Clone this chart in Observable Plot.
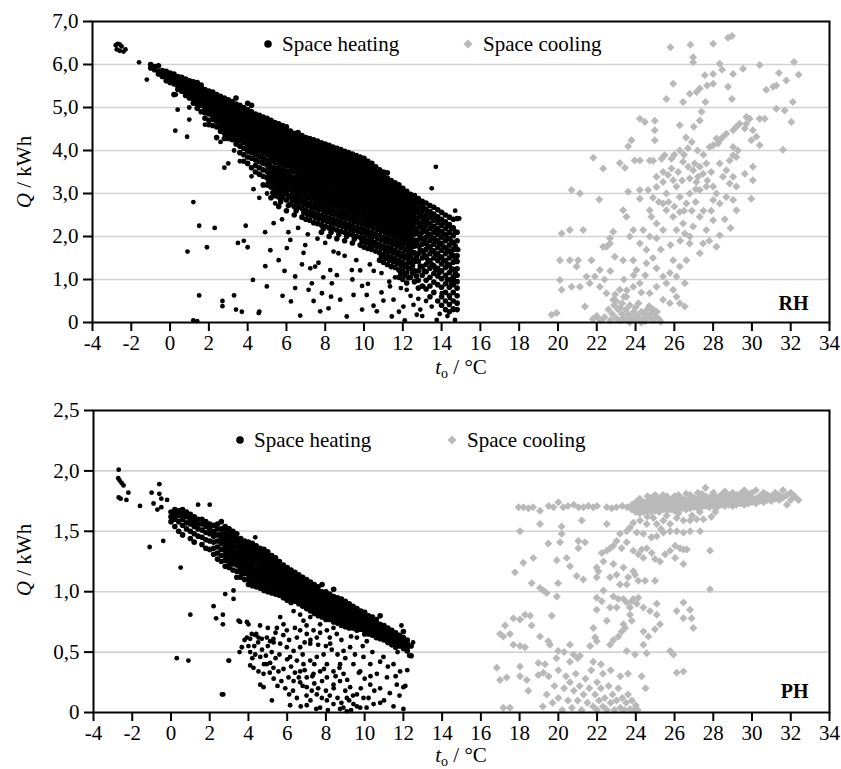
<!DOCTYPE html>
<html><head><meta charset="utf-8">
<script src="https://cdn.jsdelivr.net/npm/d3@7"></script>
<script src="https://cdn.jsdelivr.net/npm/@observablehq/plot@0.6"></script>
<style>body{margin:0;background:#fff}#wrap{width:841px}</style>
</head><body><div id="wrap"></div>
<script>
const xTicks = [-4,-2,0,2,4,6,8,10,12,14,16,18,20,22,24,26,28,30,32,34];
const yTicksRH = [0,1,2,3,4,5,6,7];
const yTicksPH = [0,0.5,1,1.5,2,2.5];
const legendLabels = ["Space heating","Space cooling"];
const panelTags = ["RH","PH"];

// RH space heating: dense band, as columns [x, [y...]]
const heatRH_cols = [
[-1.0,[6.0,5.92]],[-0.8,[5.95,5.88]],[-0.6,[5.97,5.85,5.78]],[-0.4,[5.86,5.8,5.72]],[-0.2,[5.84,5.76,5.7,5.62]],
[0.0,[5.8,5.74,5.66,5.58]],[0.2,[5.78,5.7,5.62,5.55,5.3]],[0.4,[5.72,5.65,5.58,5.5,5.42]],[0.6,[5.7,5.62,5.55,5.48,5.38]],
[0.8,[5.66,5.6,5.52,5.44,5.35,5.28]],[1.0,[5.62,5.55,5.48,5.4,5.32,5.22]],[1.2,[5.6,5.52,5.44,5.36,5.28,5.18,5.1]],
[1.4,[5.58,5.5,5.42,5.34,5.26,5.18,5.08,4.98]],[1.6,[5.52,5.45,5.38,5.3,5.22,5.14,5.05,4.9]],
[1.8,[5.42,5.36,5.3,5.22,5.14,5.06,4.98,4.88,4.75]],[2.0,[5.38,5.32,5.26,5.18,5.1,5.02,4.94,4.85,4.7,4.6]],
[2.2,[5.36,5.28,5.2,5.12,5.04,4.96,4.88,4.8,4.72,4.58]],[2.4,[5.3,5.24,5.16,5.08,5.0,4.92,4.84,4.76,4.68,4.55,4.3]],
[2.6,[5.26,5.2,5.12,5.04,4.96,4.88,4.8,4.72,4.64,4.55,4.45]],[2.8,[5.22,5.15,5.07,4.99,4.91,4.83,4.75,4.67,4.58,4.5,4.4,4.28]],
[3.0,[5.18,5.1,5.02,4.94,4.86,4.78,4.7,4.62,4.54,4.45,4.36,4.28]],[3.2,[5.14,5.06,4.98,4.9,4.82,4.74,4.66,4.58,4.5,4.42,4.34,4.25]],
[3.4,[5.22,5.08,5.0,4.92,4.84,4.76,4.68,4.6,4.52,4.44,4.36,4.26,4.15]],[3.6,[5.05,4.97,4.89,4.81,4.73,4.65,4.57,4.49,4.41,4.33,4.22,4.1,3.95]],
[3.8,[5.0,4.92,4.84,4.76,4.68,4.6,4.52,4.44,4.36,4.28,4.18,4.05,3.9,3.75]],[4.0,[5.1,4.95,4.87,4.79,4.71,4.63,4.55,4.47,4.39,4.31,4.2,4.1,3.98,3.85,3.7]],
[4.2,[5.05,4.9,4.82,4.74,4.66,4.58,4.5,4.42,4.34,4.26,4.16,4.06,3.95,3.82,3.6]],[4.4,[4.85,4.77,4.69,4.61,4.53,4.45,4.37,4.29,4.21,4.11,4.0,3.9,3.78,3.65,3.5]],
[4.6,[4.82,4.74,4.66,4.58,4.5,4.42,4.34,4.26,4.18,4.08,3.98,3.86,3.74,3.6,3.45]],[4.8,[4.78,4.7,4.62,4.54,4.46,4.38,4.3,4.22,4.14,4.04,3.94,3.82,3.7,3.55,3.4,3.2]],
[5.0,[4.75,4.67,4.59,4.51,4.43,4.35,4.27,4.19,4.1,4.0,3.9,3.78,3.66,3.52,3.36,3.2]],[5.2,[4.7,4.62,4.54,4.46,4.38,4.3,4.22,4.14,4.06,3.96,3.86,3.75,3.62,3.48,3.33,3.15,2.9]],
[5.4,[4.65,4.58,4.5,4.42,4.34,4.26,4.18,4.1,4.02,3.93,3.83,3.72,3.6,3.46,3.3,3.12,2.95]],[5.6,[4.62,4.54,4.46,4.38,4.3,4.22,4.14,4.06,3.98,3.9,3.8,3.7,3.58,3.44,3.28,3.1,2.92,2.7]],
[5.8,[4.58,4.5,4.42,4.34,4.26,4.18,4.1,4.02,3.94,3.86,3.77,3.67,3.55,3.42,3.26,3.08,2.9]],[6.0,[4.55,4.47,4.39,4.31,4.23,4.15,4.07,3.99,3.91,3.83,3.74,3.64,3.52,3.38,3.22,3.05,2.85,2.6]],
[6.2,[4.45,4.38,4.3,4.22,4.14,4.06,3.98,3.9,3.82,3.73,3.63,3.52,3.4,3.26,3.1,2.92,2.75]],[6.4,[4.4,4.33,4.25,4.17,4.09,4.01,3.93,3.85,3.77,3.69,3.6,3.5,3.38,3.24,3.08,2.9,2.7,2.5]],
[6.6,[4.42,4.3,4.22,4.14,4.06,3.98,3.9,3.82,3.74,3.66,3.57,3.47,3.36,3.22,3.06,2.88,2.68]],[6.8,[4.35,4.27,4.19,4.11,4.03,3.95,3.87,3.79,3.71,3.63,3.54,3.44,3.33,3.19,3.03,2.85,2.65,2.45]],
[7.0,[4.3,4.22,4.14,4.06,3.98,3.9,3.82,3.74,3.66,3.58,3.5,3.4,3.3,3.16,3.0,2.82,2.62,2.4]],[7.2,[4.28,4.2,4.12,4.04,3.96,3.88,3.8,3.72,3.64,3.56,3.47,3.37,3.26,3.12,2.96,2.78,2.58,2.38]],
[7.4,[4.25,4.16,4.08,4.0,3.92,3.84,3.76,3.68,3.6,3.52,3.44,3.34,3.23,3.09,2.93,2.75,2.55,2.32]],[7.6,[4.22,4.13,4.05,3.97,3.89,3.81,3.73,3.65,3.57,3.49,3.41,3.31,3.2,3.06,2.9,2.72,2.52,2.3]],
[7.8,[4.18,4.1,4.02,3.94,3.86,3.78,3.7,3.62,3.54,3.46,3.38,3.28,3.17,3.03,2.87,2.69,2.49,2.27,2.1]],[8.0,[4.15,4.07,3.99,3.91,3.83,3.75,3.67,3.59,3.51,3.43,3.35,3.25,3.14,3.0,2.84,2.66,2.46,2.24]],
[8.2,[4.12,4.04,3.96,3.88,3.8,3.72,3.64,3.56,3.48,3.4,3.32,3.22,3.11,2.97,2.81,2.63,2.43,2.2,2.0]],[8.4,[4.08,4.0,3.92,3.84,3.76,3.68,3.6,3.52,3.44,3.36,3.28,3.19,3.08,2.94,2.78,2.6,2.4,2.18]],
[8.6,[4.05,3.97,3.89,3.81,3.73,3.65,3.57,3.49,3.41,3.33,3.25,3.16,3.05,2.91,2.75,2.57,2.37,2.15,1.95]],[8.8,[4.02,3.94,3.86,3.78,3.7,3.62,3.54,3.46,3.38,3.3,3.22,3.13,3.02,2.88,2.72,2.54,2.34,2.12]],
[9.0,[3.98,3.9,3.82,3.74,3.66,3.58,3.5,3.42,3.34,3.26,3.18,3.1,2.99,2.85,2.69,2.51,2.31,2.1,1.9]],[9.2,[3.95,3.87,3.79,3.71,3.63,3.55,3.47,3.39,3.31,3.23,3.15,3.06,2.95,2.82,2.66,2.48,2.28,2.06]],
[9.4,[3.92,3.84,3.76,3.68,3.6,3.52,3.44,3.36,3.28,3.2,3.12,3.03,2.92,2.79,2.63,2.45,2.25,2.04,1.85]],[9.6,[3.88,3.8,3.72,3.64,3.56,3.48,3.4,3.32,3.24,3.16,3.08,3.0,2.89,2.76,2.6,2.42,2.22,2.0]],
[9.8,[3.85,3.77,3.69,3.61,3.53,3.45,3.37,3.29,3.21,3.13,3.05,2.96,2.86,2.73,2.57,2.39,2.19,1.98,1.8]],[10.0,[3.82,3.72,3.64,3.56,3.48,3.4,3.32,3.24,3.16,3.08,3.0,2.92,2.82,2.7,2.54,2.36,2.16,1.95,1.75]],
[10.2,[3.75,3.66,3.58,3.5,3.42,3.34,3.26,3.18,3.1,3.02,2.94,2.86,2.77,2.65,2.5,2.33,2.13,1.92,1.72]],[10.4,[3.7,3.6,3.52,3.44,3.36,3.28,3.2,3.12,3.04,2.96,2.88,2.8,2.72,2.6,2.46,2.3,2.1,1.9,1.7]],
[10.6,[3.62,3.54,3.46,3.38,3.3,3.22,3.14,3.06,2.98,2.9,2.82,2.74,2.66,2.55,2.42,2.26,2.06,1.86,1.66]],[10.8,[3.55,3.48,3.4,3.32,3.24,3.16,3.08,3.0,2.92,2.84,2.76,2.68,2.6,2.5,2.38,2.22,2.02,1.82,1.62,1.45]],
[11.0,[3.5,3.42,3.34,3.26,3.18,3.1,3.02,2.94,2.86,2.78,2.7,2.62,2.54,2.45,2.33,2.18,1.98,1.78,1.58,1.4]],[11.2,[3.48,3.36,3.28,3.2,3.12,3.04,2.96,2.88,2.8,2.72,2.64,2.56,2.48,2.4,2.28,2.14,1.95,1.75,1.55,1.35]],
[11.4,[3.3,3.22,3.14,3.06,2.98,2.9,2.82,2.74,2.66,2.58,2.5,2.42,2.34,2.22,2.1,1.92,1.72,1.52,1.3]],[11.6,[3.25,3.16,3.08,3.0,2.92,2.84,2.76,2.68,2.6,2.52,2.44,2.36,2.28,2.16,2.05,1.88,1.68,1.48,1.28]],
[11.8,[3.2,3.1,3.02,2.94,2.86,2.78,2.7,2.62,2.54,2.46,2.38,2.3,2.22,2.1,2.0,1.84,1.64,1.44,1.22,1.05]],[12.0,[3.12,3.04,2.96,2.88,2.8,2.72,2.64,2.56,2.48,2.4,2.32,2.24,2.16,2.05,1.95,1.8,1.6,1.4,1.2,1.0]],
[12.2,[3.05,2.96,2.88,2.8,2.72,2.64,2.56,2.48,2.4,2.32,2.2,2.08,1.96,1.84,1.7,1.55,1.35,1.15,0.92]],[12.4,[2.98,2.9,2.82,2.74,2.66,2.56,2.46,2.34,2.22,2.1,1.98,1.84,1.7,1.55,1.4,1.25,1.05]],
[12.6,[2.95,2.84,2.74,2.64,2.54,2.42,2.3,2.18,2.06,1.92,1.78,1.62,1.42,1.2,0.95]],[12.8,[2.88,2.78,2.66,2.56,2.44,2.32,2.2,2.06,1.92,1.78,1.6,1.42,1.2,0.98,0.8]],
[13.0,[2.82,2.7,2.58,2.46,2.34,2.22,2.1,1.96,1.82,1.66,1.5,1.3,1.1,0.85]],[13.2,[2.78,2.64,2.5,2.38,2.26,2.12,1.98,1.84,1.7,1.52,1.35,1.18,0.98,0.78]],
[13.4,[2.72,2.58,2.44,2.3,2.18,2.04,1.9,1.76,1.6,1.44,1.26,1.05,0.85,0.6]],[13.6,[2.68,2.52,2.38,2.24,2.1,1.96,1.82,1.66,1.5,1.32,1.14,0.94,0.7]],
[13.8,[2.62,2.46,2.32,2.18,2.04,1.9,1.74,1.6,1.44,1.26,1.08,0.88,0.5]],[14.0,[2.56,2.4,2.26,2.12,1.98,1.84,1.68,1.52,1.36,1.2,1.02,0.82,0.6,0.4]],
[14.2,[2.5,2.34,2.18,2.04,1.9,1.74,1.6,1.44,1.28,1.1,0.9,0.7,0.5,0.3]],[14.4,[2.45,2.28,2.1,1.96,1.8,1.66,1.5,1.34,1.16,1.0,0.82,0.62,0.42,0.25]],
[14.6,[2.4,2.2,2.02,1.86,1.7,1.56,1.4,1.24,1.06,0.88,0.7,0.5,0.32]],[14.8,[2.42,2.1,1.9,1.7,1.55,1.42,1.25,1.1,0.95,0.8,0.62,0.45,0.3]]
];
// RH space heating: lower part of the band, read between the columns above
const heatRH_fill = [
[5.1,[3.72,3.59,3.44,3.28]],[5.3,[3.55,3.4,3.24,3.02]],[5.5,[3.53,3.38,3.21,3.03]],[5.7,[3.51,3.36,3.19,3.01,2.81]],
[5.9,[3.48,3.34,3.17,2.99]],[6.1,[3.45,3.3,3.13,2.95,2.72]],[6.3,[3.33,3.18,3.01,2.83]],[6.5,[3.31,3.16,2.99,2.8,2.6]],
[6.7,[3.29,3.14,2.97,2.78]],[6.9,[3.26,3.11,2.94,2.75,2.55]],[7.1,[3.23,3.08,2.91,2.72,2.51]],[7.3,[3.19,3.04,2.87,2.68,2.48]],
[7.5,[3.16,3.01,2.84,2.65,2.43]],[7.7,[3.13,2.98,2.81,2.62,2.41]],[7.9,[3.1,2.95,2.78,2.59,2.38,2.18]],[8.1,[3.07,2.92,2.75,2.56,2.35]],
[8.3,[3.04,2.89,2.72,2.53,2.31,2.1]],[8.5,[3.01,2.86,2.69,2.5,2.29]],[8.7,[2.98,2.83,2.66,2.47,2.26,2.05]],[8.9,[2.95,2.8,2.63,2.44,2.23]],
[9.1,[2.92,2.77,2.6,2.41,2.2,2.0]],[9.3,[2.88,2.74,2.57,2.38,2.17]],[9.5,[2.85,2.71,2.54,2.35,2.14,1.94]],[9.7,[2.82,2.68,2.51,2.32,2.11]],
[9.9,[2.79,2.65,2.48,2.29,2.08,1.89]],[10.1,[2.76,2.62,2.45,2.26,2.05,1.85]],[10.3,[2.71,2.57,2.41,2.23,2.02,1.82]],
[10.5,[2.66,2.53,2.38,2.2,2.0,1.8]],[10.7,[2.6,2.48,2.34,2.16,1.96,1.76]],[10.9,[2.55,2.44,2.3,2.12,1.92,1.72,1.53]],
[11.1,[2.5,2.39,2.25,2.08,1.88,1.68,1.49]],[11.3,[2.34,2.21,2.04,1.85,1.65,1.45]],[11.5,[2.28,2.16,2.01,1.82,1.62,1.41]],
[11.7,[2.22,2.1,1.96,1.78,1.58,1.38]],[11.9,[2.16,2.05,1.92,1.74,1.54,1.33,1.13]],[12.1,[2.1,2.0,1.87,1.7,1.5,1.3,1.1]],
[12.3,[2.26,2.14,2.02,1.9,1.77,1.62,1.45,1.25,1.04]],[12.5,[2.4,2.28,2.16,2.04,1.91,1.77,1.62,1.47,1.32,1.15]],
[12.7,[2.36,2.12,1.85,1.52,1.08]],[12.9,[2.5,2.26,1.99,1.69,1.31]],[13.1,[2.64,2.4,2.16,1.89,1.58,1.2]],[13.3,[2.57,2.32,2.05,1.77,1.43]],
[13.5,[2.51,2.24,1.97,1.68,1.35]],[13.7,[2.45,2.17,1.89,1.58,1.23]],[13.9,[2.39,2.11,1.82,1.52,1.17]],[14.1,[2.33,2.05,1.76,1.44]],
[14.3,[2.26,1.97,1.67,1.36,1.0]],[14.5,[2.19,1.88,1.58,1.25,0.91]],[14.7,[2.11,1.78,1.48,1.15]]
];
// RH space heating: scattered points
const heatRH_pts = [
[-2.8,6.45],[-2.7,6.48],[-2.6,6.47],[-2.75,6.35],[-2.6,6.32],[-2.4,6.3],[-2.3,6.35],[-2.5,6.42],[-1.6,6.05],[-1.2,5.65],
[0.27,4.46],[0.88,4.32],[0.99,4.72],[0.39,4.95],[0.99,5.0],[0.3,5.3],[2.8,3.6],[3.0,3.7],[1.2,2.8],[1.5,2.25],[2.3,2.2],
[0.9,1.65],[1.9,1.75],[3.9,2.25],[3.5,1.85],[3.8,1.9],[4.0,1.75],[1.2,0.05],[1.4,0.03],[1.5,0.63],[3.3,0.63],[2.7,0.5],
[2.7,0.38],[3.4,0.3],[3.7,0.25],[4.6,0.25],[3.6,3.75],[4.3,3.1],[4.27,0.99],[5.17,1.68],[4.57,0.22],[4.91,1.31],[4.99,0.84],
[5.8,0.62],[6.02,1.73],[6.45,1.07],[6.45,0.8],[6.23,0.49],[6.71,0.16],[6.88,1.62],[6.97,1.8],[7.14,0.76],[7.23,1.26],
[7.31,0.91],[7.48,1.3],[7.65,1.39],[7.74,0.26],[7.83,0.68],[8.17,0.33],[8.26,1.22],[8.34,0.91],[8.43,1.65],[8.68,1.61],
[8.77,0.53],[9.11,0.14],[9.37,1.22],[9.46,0.64],[9.8,1.21],[10.14,0.64],[10.49,0.39],[10.66,0.26],[11.0,0.51],[11.34,0.84],
[11.43,0.14],[11.52,0.53],[12.03,0.37],[12.2,0.76],[12.55,0.41],[12.72,0.18],[13.06,0.84],[13.49,0.37],[13.75,0.06],
[14.01,0.68],[14.43,0.57],[14.6,0.29],[14.69,0.06],[14.64,0.99],[14.78,1.45],[14.86,1.69],[14.91,2.42],[13.49,3.12],
[13.7,3.62],[14.7,2.6],[5.42,2.77],[5.34,2.31],[5.77,2.4],[6.2,1.92],[4.9,2.1],[6.6,2.2],[7.1,2.05],[7.6,1.95],[8.0,1.85],
[9.0,1.55],[9.6,1.45],[10.3,1.35],[10.9,1.15],[11.3,0.95],[11.9,0.8],[12.4,0.62],[13.2,0.5],[12.9,0.3],[11.8,0.25],
[10.2,0.9],[9.4,1.0],[8.6,1.1],[7.9,1.05],[6.8,1.35],[5.6,1.45],[5.9,1.2],[10.5,1.2],[11.6,1.05],[12.8,0.55],[13.9,0.2],
[14.3,0.15],[9.9,0.3],[8.3,0.6],[7.4,0.5],[6.1,2.1],[4.6,2.9],[5.0,3.0],[4.2,3.4],[3.3,4.0],[2.6,4.2],[1.8,4.6],
[13.0,0.15],[12.1,0.05],[10.9,0.7],[9.9,0.85]
];
// RH space cooling
const coolRH = [
[25.8,6.4],[26.83,6.46],[26.97,6.17],[26.97,6.05],[28.0,6.48],[28.77,6.62],[28.97,6.66],[30.4,5.99],[32.17,6.06],[32.41,5.76],
[31.77,5.63],[31.39,5.8],[31.26,5.51],[31.1,5.48],[30.74,5.41],[31.26,4.97],[31.69,4.93],[32.11,5.13],[32.03,4.66],[31.6,4.02],
[29.54,5.9],[29.03,5.78],[28.46,5.88],[28.34,6.02],[28.0,5.78],[28.77,5.48],[28.97,5.2],[28.0,5.55],[27.57,5.75],[27.69,5.51],
[27.31,5.44],[27.14,5.36],[26.79,5.32],[26.45,5.13],[27.6,5.13],[27.4,4.9],[25.94,5.55],[25.59,5.2],[24.22,4.74],[24.48,4.66],
[24.99,4.69],[24.99,4.47],[24.99,4.24],[26.28,4.59],[27.0,4.55],[27.31,4.7],[23.79,4.24],[23.62,4.1],[21.82,3.83],[22.33,3.58],
[23.19,3.71],[23.45,3.6],[23.96,3.77],[24.22,3.77],[24.73,3.77],[24.91,3.76],[25.5,3.89],[25.34,3.81],[25.85,3.81],[26.28,4.0],
[20.7,3.08],[21.13,3.0],[22.13,2.86],[23.62,3.04],[24.22,2.88],[24.22,3.08],[24.65,3.08],[25.08,3.15],[25.42,3.27],[25.68,3.43],
[25.85,3.58],[25.08,3.39],[25.42,3.5],[26.45,3.74],[26.71,3.62],[26.97,3.54],[27.22,3.39],[26.79,3.35],[27.14,3.27],[27.48,3.46],
[27.31,3.62],[27.65,3.7],[27.05,3.7],[27.82,4.08],[28.0,4.12],[28.25,4.16],[28.34,4.24],[28.51,4.32],[28.68,4.39],[28.17,4.28],
[29.03,4.47],[29.2,4.55],[29.37,4.62],[29.63,4.51],[29.71,4.62],[29.88,4.74],[29.71,4.78],[30.05,4.47],[30.23,4.32],[30.4,4.12],
[29.97,4.24],[30.4,4.74],[30.66,4.74],[29.03,4.08],[29.28,4.0],[29.03,3.89],[28.85,3.77],[29.2,3.85],[29.63,3.46],[30.05,3.31],
[30.05,3.62],[28.34,3.7],[28.68,3.54],[28.51,3.39],[28.85,3.23],[29.03,3.39],[29.2,3.16],[28.0,3.16],[28.17,3.0],[28.0,2.85],
[28.34,2.77],[28.68,2.92],[29.03,2.85],[29.2,2.61],[29.97,2.88],[25.94,3.31],[26.11,3.16],[26.28,2.92],[26.62,2.77],[26.79,3.0],
[27.31,3.08],[27.65,3.16],[25.59,3.0],[25.42,2.77],[25.59,2.61],[25.94,2.46],[26.28,2.57],[26.45,2.3],[26.11,2.15],[26.54,2.07],
[26.97,2.23],[27.31,2.46],[27.65,2.15],[28.0,2.38],[28.34,2.03],[28.17,1.76],[27.48,1.84],[27.31,1.61],[26.79,1.84],[26.62,1.45],
[26.28,1.3],[25.94,1.45],[25.77,1.15],[26.11,1.07],[26.54,0.91],[24.73,2.61],[24.82,2.46],[25.08,2.3],[25.42,2.15],[25.08,1.96],
[24.73,2.0],[24.39,2.15],[24.22,1.84],[24.56,1.69],[23.88,2.15],[23.7,2.0],[23.36,2.61],[23.53,2.46],[22.85,2.11],[22.68,1.96],
[22.5,1.76],[22.93,1.53],[23.36,1.45],[23.88,1.45],[24.05,1.22],[24.56,1.38],[25.08,1.26],[25.42,1.07],[25.59,0.91],[25.94,0.76],
[26.11,0.6],[26.28,0.45],[26.54,0.37],[25.77,0.45],[25.42,0.53],[25.08,0.83],[24.73,0.68],[24.22,0.91],[23.88,0.83],[23.53,0.6],
[23.19,0.76],[22.85,0.53],[22.5,0.68],[22.16,0.83],[21.64,0.91],[21.47,1.07],[21.13,0.83],[20.7,0.83],[20.19,0.76],[20.1,0.99],
[20.1,1.45],[20.61,1.45],[21.04,1.45],[20.96,1.3],[21.73,1.45],[21.3,2.15],[20.61,2.15],[20.19,2.07],[19.67,0.18],[19.93,0.22],
[22.33,1.76],[22.68,1.84],[22.16,1.22],[21.9,1.07],[26.5,3.9],[26.9,4.2],[27.2,4.0],[27.5,3.9],[26.6,4.3],[27.9,3.5],[27.7,3.3],
[26.4,3.3],[26.2,3.5],[25.7,2.8],[26.0,2.7],[25.2,2.8],[24.9,2.9],[26.9,2.6],[27.1,2.8],[27.9,2.6],[27.5,2.6],[26.8,2.0],
[26.3,1.9],[25.8,1.8],[25.3,1.7],[24.9,1.5],[24.5,1.1],[23.9,1.1],[24.3,0.7],[23.4,1.0],[22.7,1.2],[22.4,1.0],[27.8,1.9],
[28.6,2.4],[28.9,2.2],[26.0,3.9],[26.7,4.05],[27.1,3.1],[26.5,2.6],[21.8,0.08],[22.0,0.15],[21.39,0.37],[21.99,0.14],
[22.6,0.3],[22.8,0.2],[22.9,0.4],[23.0,0.1],[23.1,0.3],[23.2,0.05],[23.3,0.2],[23.3,0.45],[23.4,0.1],[23.5,0.3],[23.6,0.05],
[23.6,0.2],[23.7,0.4],[23.8,0.12],[23.9,0.25],[24.0,0.05],[24.0,0.35],[24.1,0.15],[24.2,0.05],[24.3,0.25],[24.4,0.1],[24.5,0.2],
[24.5,0.03],[24.6,0.3],[24.7,0.12],[24.8,0.2],[24.9,0.05],[24.9,0.3],[25.0,0.15],[25.1,0.25],[25.2,0.08],[23.0,0.5],[23.4,0.6],
[22.7,0.05],[22.4,0.12],[22.2,0.05],[23.7,0.0],[24.3,0.0],[24.7,0.38],[25.3,0.02],[23.2,0.35],[22.95,0.65],[23.55,0.75],[24.15,0.45]
];

// PH space heating: dense band columns
const heatPH_cols = [
[0.0,[1.66,1.62,1.58]],[0.2,[1.68,1.64,1.6,1.54]],[0.4,[1.67,1.63,1.58,1.5]],[0.6,[1.68,1.64,1.6,1.55,1.47]],[0.8,[1.66,1.62,1.57,1.52]],
[1.0,[1.64,1.6,1.56,1.5,1.44]],[1.2,[1.62,1.58,1.54,1.48,1.41]],[1.4,[1.6,1.56,1.52,1.46]],[1.6,[1.6,1.56,1.51,1.45,1.39]],
[1.8,[1.58,1.54,1.49,1.43,1.36]],[2.0,[1.56,1.52,1.48,1.42,1.35]],[2.2,[1.55,1.5,1.46,1.41,1.36,1.31]],[2.4,[1.56,1.52,1.47,1.42,1.37,1.32,1.27]],
[2.6,[1.58,1.52,1.48,1.44,1.4,1.35,1.3,1.25]],[2.8,[1.54,1.5,1.46,1.42,1.38,1.34,1.3,1.26,1.21]],[3.0,[1.52,1.48,1.44,1.4,1.36,1.32,1.28,1.24,1.2]],
[3.2,[1.5,1.46,1.42,1.38,1.35,1.31,1.27,1.23,1.18]],[3.4,[1.48,1.44,1.41,1.37,1.33,1.3,1.26,1.22,1.17,1.12]],
[3.6,[1.44,1.41,1.38,1.34,1.31,1.27,1.24,1.2,1.16,1.12]],[3.8,[1.42,1.39,1.36,1.32,1.29,1.26,1.22,1.19,1.15,1.1]],
[4.0,[1.41,1.38,1.34,1.31,1.28,1.24,1.21,1.18,1.14,1.1,1.06]],[4.2,[1.4,1.36,1.33,1.3,1.26,1.23,1.2,1.16,1.13,1.09,1.05]],
[4.4,[1.38,1.35,1.32,1.28,1.25,1.22,1.18,1.15,1.12,1.08,1.04]],[4.6,[1.36,1.33,1.3,1.27,1.23,1.2,1.17,1.14,1.1,1.07,1.03]],
[4.8,[1.35,1.31,1.28,1.25,1.22,1.19,1.15,1.12,1.09,1.05,1.01]],[5.0,[1.33,1.3,1.27,1.23,1.2,1.17,1.14,1.11,1.07,1.04,1.0]],
[5.2,[1.3,1.27,1.24,1.21,1.18,1.15,1.12,1.09,1.06,1.02,0.99]],[5.4,[1.28,1.25,1.22,1.19,1.16,1.13,1.1,1.07,1.04,1.01,0.98]],
[5.6,[1.25,1.22,1.19,1.16,1.13,1.1,1.07,1.04,1.01,0.97]],[5.8,[1.22,1.19,1.16,1.13,1.1,1.07,1.04,1.01,0.98,0.95]],
[6.0,[1.2,1.17,1.14,1.11,1.08,1.05,1.02,0.99,0.96,0.93]],[6.2,[1.18,1.15,1.12,1.09,1.06,1.03,1.0,0.97,0.94,0.91]],
[6.4,[1.16,1.13,1.1,1.07,1.04,1.01,0.98,0.95,0.92]],[6.6,[1.14,1.11,1.08,1.05,1.02,0.99,0.96,0.93,0.9]],
[6.8,[1.12,1.09,1.06,1.03,1.0,0.97,0.94,0.91,0.88]],[7.0,[1.1,1.07,1.04,1.01,0.98,0.95,0.92,0.89,0.86]],
[7.2,[1.08,1.05,1.02,0.99,0.96,0.93,0.9,0.87,0.84]],[7.4,[1.06,1.03,1.0,0.97,0.94,0.91,0.88,0.85,0.82]],
[7.6,[1.04,1.01,0.98,0.95,0.92,0.89,0.86,0.83,0.8]],[7.8,[1.06,1.0,0.97,0.94,0.91,0.88,0.85,0.82,0.79]],
[8.0,[1.0,0.97,0.94,0.91,0.88,0.85,0.82,0.79,0.77]],[8.2,[0.98,0.95,0.92,0.89,0.86,0.83,0.8,0.77]],
[8.4,[1.02,0.96,0.93,0.9,0.87,0.84,0.81,0.78,0.75]],[8.6,[0.95,0.92,0.89,0.86,0.83,0.8,0.77,0.74]],
[8.8,[0.94,0.9,0.87,0.84,0.81,0.78,0.75,0.72]],[9.0,[0.92,0.89,0.86,0.83,0.8,0.77,0.74,0.71]],
[9.2,[0.9,0.87,0.84,0.81,0.78,0.75,0.72,0.7]],[9.4,[0.88,0.85,0.82,0.79,0.76,0.73,0.7]],[9.6,[0.86,0.83,0.8,0.77,0.74,0.71,0.68]],
[9.8,[0.84,0.81,0.78,0.75,0.72,0.69]],[10.0,[0.83,0.8,0.77,0.74,0.71,0.68,0.65]],[10.2,[0.8,0.77,0.74,0.71,0.68,0.65]],
[10.4,[0.79,0.76,0.73,0.7,0.67,0.64]],[10.6,[0.77,0.74,0.71,0.68,0.65,0.62]],[10.8,[0.8,0.73,0.7,0.67,0.64,0.61]],
[11.0,[0.72,0.69,0.66,0.63,0.6]],[11.2,[0.7,0.67,0.64,0.61,0.58]],[11.4,[0.68,0.65,0.62,0.59,0.56]],[11.6,[0.66,0.63,0.6,0.57,0.54]],
[11.8,[0.64,0.61,0.58,0.55]],[12.0,[0.62,0.59,0.56,0.53,0.67]],[12.2,[0.6,0.57,0.54,0.51]],[12.4,[0.55,0.47]]
];
// PH space heating: scattered points
const heatPH_pts = [
[-2.7,2.01],[-2.72,1.94],[-2.65,1.92],[-2.55,1.9],[-2.45,1.88],[-2.7,1.78],[-2.6,1.77],[-2.3,1.76],[-2.2,1.82],[-1.6,1.71],
[-1.0,1.82],[-0.9,1.73],[-0.6,1.89],[-0.6,1.81],[-0.5,1.77],[-0.2,1.76],[-0.7,1.68],[-0.5,1.7],[-1.1,1.37],[-0.4,1.42],
[0.5,1.2],[1.0,0.81],[0.3,0.45],[0.9,0.43],[3.0,0.43],[2.7,0.15],[1.4,1.72],[2.0,1.72],[4.35,1.45],[2.2,0.88],[2.33,0.78],
[2.68,0.73],[2.68,0.81],[2.8,0.98],[3.23,1.01],[3.23,0.94],[2.97,0.43],[2.63,0.15],[3.49,0.76],[3.57,0.75],[3.92,0.75],
[4.0,0.73],[3.66,0.54],[3.54,0.5],[3.92,0.62],[4.09,0.61],[4.17,0.65],[4.35,0.64],[4.52,0.62],[4.69,0.61],[4.95,0.62],
[5.12,0.59],[5.29,0.61],[4.09,0.5],[4.35,0.48],[4.61,0.46],[4.09,0.39],[4.26,0.37],[4.52,0.34],[4.78,0.32],[4.95,0.4],
[5.12,0.41],[5.29,0.37],[5.55,0.34],[5.81,0.36],[6.07,0.29],[6.33,0.26],[6.67,0.25],[7.01,0.21],[7.27,0.18],[7.53,0.15],
[7.79,0.12],[8.05,0.1],[8.39,0.07],[4.61,0.23],[4.78,0.21],[5.21,0.1],[6.15,0.06],[7.01,0.06],[7.7,0.04],[8.73,0.03],
[9.08,0.01],[9.77,0.04],[10.46,0.07],[10.8,0.08],[11.49,0.05],[12.0,0.03],[5.64,0.79],[5.81,0.73],[5.98,0.68],[5.47,0.7],
[6.33,0.84],[6.67,0.81],[6.84,0.76],[7.19,0.79],[6.67,0.68],[7.01,0.65],[7.36,0.68],[7.7,0.73],[7.53,0.62],[7.19,0.57],
[6.67,0.54],[6.33,0.51],[5.98,0.54],[5.64,0.57],[6.15,0.46],[6.5,0.43],[6.84,0.4],[7.19,0.43],[7.53,0.46],[7.88,0.48],
[8.05,0.4],[7.7,0.34],[7.36,0.32],[7.01,0.29],[6.67,0.34],[8.05,0.29],[8.39,0.23],[8.73,0.26],[8.39,0.34],[8.73,0.4],
[8.91,0.32],[9.25,0.21],[9.6,0.15],[9.08,0.12],[9.42,0.07],[9.94,0.12],[10.29,0.23],[10.63,0.32],[11.15,0.29],[11.49,0.4],
[11.83,0.34],[11.66,0.23],[12.0,0.21],[10.97,0.46],[10.11,0.59],[9.6,0.62],[9.25,0.54],[8.91,0.51],[9.94,0.46],[10.29,0.4],
[9.77,0.34],[9.42,0.4],[8.22,0.57],[8.56,0.65],[8.05,0.68],[8.39,0.7],[4.3,0.55],[4.5,0.58],[4.7,0.52],[4.9,0.47],[5.0,0.55],
[5.2,0.5],[5.4,0.45],[5.6,0.48],[5.3,0.28],[5.5,0.22],[5.7,0.26],[5.9,0.2],[6.1,0.15],[6.3,0.18],[6.5,0.12],[6.2,0.38],
[6.4,0.33],[6.6,0.29],[6.8,0.22],[7.0,0.14],[7.2,0.1],[7.4,0.24],[7.6,0.2],[7.8,0.26],[8.0,0.18],[8.2,0.14],[8.4,0.2],
[8.6,0.12],[8.8,0.08],[9.0,0.18],[9.2,0.1],[9.4,0.14],[9.6,0.05],[9.8,0.2],[10.0,0.28],[10.2,0.12],[10.5,0.18],[10.8,0.2],
[11.0,0.1],[11.3,0.16],[11.8,0.14],[12.1,0.22],[11.6,0.3],[11.2,0.38],[10.8,0.42],[10.4,0.5],[9.9,0.55],[9.5,0.48],[9.0,0.45],
[8.6,0.48],[8.3,0.52],[8.0,0.55],[7.6,0.56],[7.2,0.6],[6.9,0.58],[6.5,0.62],[6.1,0.6],[5.8,0.64],[5.4,0.66],[5.0,0.7],
[4.6,0.72],[4.4,0.65],[4.2,0.45],[4.8,0.4],[5.1,0.33],[6.0,0.44],[6.8,0.48],[7.4,0.4],[7.9,0.36],[8.5,0.3],[9.1,0.27],
[9.7,0.33],[10.3,0.3],[11.7,0.5],[11.4,0.6],[10.9,0.65],[12.2,0.35],[7.0,0.72],[6.4,0.7],[8.8,0.6],[9.3,0.63],[7.7,0.66],
[8.2,0.62],[5.3,0.58],[4.0,0.55],[3.8,0.6],[6.7,0.05],[7.5,0.03],[8.1,0.02],[8.9,0.04],[9.3,0.02],[10.1,0.04],[6.9,0.35],
[7.3,0.3],[8.7,0.37],[12.5,0.58],[12.3,0.47],[11.9,0.72]
];
// PH space cooling: upper band columns
const coolPH_cols = [
[23.8,[1.68,1.72]],[24.0,[1.66,1.7,1.74]],[24.2,[1.65,1.69,1.73,1.77]],[24.4,[1.66,1.7,1.74]],[24.6,[1.67,1.71,1.75,1.79]],
[24.8,[1.66,1.7,1.74,1.78]],[25.0,[1.67,1.71,1.75,1.8]],[25.2,[1.66,1.7,1.74,1.77]],[25.4,[1.68,1.72,1.76,1.8]],
[25.6,[1.67,1.71,1.75,1.79]],[25.8,[1.68,1.72,1.76]],[26.0,[1.67,1.71,1.75,1.79]],[26.2,[1.68,1.72,1.76,1.8]],
[26.4,[1.69,1.73,1.77]],[26.6,[1.68,1.72,1.76,1.81]],[26.8,[1.69,1.73,1.77,1.8]],[27.0,[1.7,1.74,1.78]],
[27.2,[1.69,1.73,1.77,1.82]],[27.4,[1.7,1.74,1.78,1.81]],[27.6,[1.71,1.75,1.79,1.86]],[27.8,[1.7,1.74,1.78]],
[28.0,[1.71,1.75,1.79,1.82]],[28.2,[1.7,1.74,1.78]],[28.4,[1.72,1.76,1.8]],[28.6,[1.71,1.75,1.79,1.83]],[28.8,[1.72,1.76,1.8]],
[29.0,[1.71,1.75,1.79,1.82]],[29.2,[1.72,1.76,1.8]],[29.4,[1.73,1.77,1.81]],[29.6,[1.72,1.76,1.8,1.84]],[29.8,[1.73,1.77,1.81]],
[30.0,[1.74,1.78,1.82]],[30.2,[1.73,1.77,1.84]],[30.4,[1.75,1.79]],[30.6,[1.74,1.78,1.82]],[30.8,[1.76,1.8]],[31.0,[1.75,1.79]],
[31.2,[1.77,1.82]],[31.4,[1.76,1.8]],[31.6,[1.78,1.84]],[31.8,[1.72,1.8]],[32.0,[1.76,1.82]],[32.2,[1.79]],[32.4,[1.76]]
];
// PH space cooling: scattered points
const coolPH_pts = [
[17.95,1.7],[18.2,1.7],[18.45,1.69],[18.7,1.7],[19.05,1.67],[19.5,1.71],[19.75,1.7],[20.0,1.74],[20.25,1.7],[20.5,1.71],
[20.8,1.72],[21.05,1.7],[21.3,1.7],[21.55,1.71],[21.8,1.7],[22.0,1.71],[22.5,1.7],[22.75,1.69],[23.0,1.7],[23.3,1.71],[23.55,1.7],
[18.02,1.5],[19.05,1.56],[20.17,1.54],[20.17,1.48],[21.21,1.59],[22.5,1.56],[20.09,1.41],[19.48,1.4],[21.03,1.42],[21.38,1.41],
[21.03,1.36],[19.92,1.26],[20.43,1.28],[20.6,1.21],[20.95,1.13],[21.29,1.1],[18.19,1.24],[18.71,1.28],[17.76,1.16],[18.62,1.07],
[19.99,1.07],[19.05,1.03],[19.23,1.01],[19.4,0.99],[19.92,0.96],[17.68,0.78],[18.02,0.77],[18.28,0.81],[18.54,0.8],[17.25,0.72],
[16.99,0.65],[17.16,0.63],[17.5,0.65],[17.68,0.56],[18.02,0.55],[18.28,0.54],[18.62,0.72],[19.05,0.63],[19.66,0.8],[19.48,0.59],
[19.99,0.51],[19.57,0.56],[16.82,0.37],[16.99,0.27],[17.33,0.29],[18.02,0.38],[18.02,0.3],[18.37,0.27],[18.45,0.18],[17.16,0.04],
[17.5,0.04],[18.97,0.41],[19.31,0.4],[18.97,0.31],[19.23,0.33],[20.6,0.56],[20.78,0.48],[21.12,0.47],[21.9,0.62],[21.98,0.59],
[21.64,0.55],[22.67,0.56],[22.84,0.6],[23.1,0.63],[23.27,0.67],[23.44,0.7],[23.36,0.73],[23.7,0.81],[23.79,0.76],[22.5,0.76],
[22.67,0.87],[23.01,0.87],[21.98,0.85],[21.81,0.7],[23.53,0.91],[23.79,0.92],[24.05,0.9],[24.39,0.87],[23.53,0.51],[23.96,0.48],
[24.39,0.56],[24.56,0.49],[24.39,0.67],[24.65,0.63],[24.73,0.84],[25.08,0.81],[25.08,0.9],[25.77,0.51],[25.94,0.48],[26.11,0.33],
[26.46,0.34],[25.25,0.73],[24.99,0.69],[26.11,0.84],[26.46,0.78],[26.8,0.85],[26.46,0.91],[26.88,0.78],[26.97,0.7],[21.98,0.95],
[22.24,0.92],[22.33,1.01],[22.84,0.96],[23.1,0.94],[23.36,0.94],[23.87,0.94],[23.7,0.87],[24.13,0.95],[22.84,1.23],[23.36,1.2],
[23.01,1.14],[23.53,1.06],[23.18,1.06],[22.67,1.12],[23.61,1.12],[23.96,1.14],[24.13,1.09],[23.87,1.17],[24.48,1.09],[24.99,1.09],
[21.98,1.2],[22.07,1.17],[21.98,1.12],[22.33,1.25],[22.24,1.32],[22.5,1.34],[22.67,1.36],[22.84,1.38],[23.01,1.42],[23.27,1.36],
[23.53,1.41],[23.87,1.34],[24.13,1.31],[24.39,1.28],[24.3,1.35],[24.56,1.36],[24.82,1.32],[24.99,1.27],[25.25,1.25],[25.51,1.31],
[25.77,1.34],[26.03,1.38],[26.28,1.36],[26.46,1.35],[26.63,1.35],[26.03,1.28],[26.46,1.23],[23.18,1.48],[23.53,1.5],[23.7,1.53],
[24.05,1.49],[24.39,1.48],[24.82,1.45],[25.08,1.46],[25.42,1.49],[25.77,1.5],[26.11,1.5],[26.46,1.49],[26.8,1.5],[27.32,1.5],
[27.83,1.34],[27.83,1.02],[23.87,1.57],[24.22,1.59],[24.56,1.56],[24.91,1.61],[25.08,1.56],[25.42,1.59],[25.77,1.56],[26.11,1.61],
[26.46,1.59],[26.8,1.59],[27.14,1.6],[27.49,1.6],[19.2,0.05],[19.4,0.15],[19.5,0.3],[19.7,0.08],[19.8,0.22],[20.0,0.12],[20.0,0.35],
[20.2,0.02],[20.3,0.2],[20.4,0.3],[20.5,0.1],[20.6,0.25],[20.7,0.04],[20.8,0.18],[20.9,0.32],[21.0,0.1],[21.1,0.22],[21.2,0.02],
[21.3,0.15],[21.4,0.28],[21.5,0.08],[21.6,0.2],[21.7,0.35],[21.8,0.05],[21.9,0.15],[22.0,0.25],[22.0,0.02],[22.1,0.1],[22.2,0.2],
[22.3,0.05],[22.3,0.32],[22.4,0.12],[22.5,0.02],[22.6,0.22],[22.7,0.08],[22.8,0.15],[22.9,0.02],[23.0,0.1],[23.1,0.2],[23.2,0.04],
[23.3,0.12],[23.4,0.02],[23.5,0.08],[23.6,0.15],[23.7,0.03],[23.8,0.1],[23.9,0.02],[24.0,0.06],[24.1,0.02],[20.6,0.42],[21.0,0.45],
[21.8,0.42],[22.2,0.4],[19.9,0.45],[20.3,0.5],[22.7,0.35],[23.2,0.3],[23.6,0.32],[24.3,0.3],[24.5,0.2],[24.8,1.45],[25.3,1.52],
[24.6,1.62],[25.6,1.63],[26.2,1.65],[26.9,1.63],[27.3,1.66],[27.9,1.62],[28.1,1.66]
];

const toPts = rows => rows.map(([x, y]) => ({x, y}));
const fromCols = cols => cols.flatMap(([x, ys]) => ys.map(y => ({x, y})));

const FONT = "'Liberation Serif','Times New Roman',serif";
const GRAY = "#b9b9b9";
const fmt = d => d === 0 ? "0" : d.toFixed(1).replace(".", ",");

function panel({heatCols, heatPts, coolCols, coolPts, yMax, yTicks, height, mt, mb, ml, tag, tagDy, leg, ylabY, xlabY}) {
  const p = Plot.plot({
    width: 841, height, marginTop: mt, marginBottom: mb, marginLeft: ml, marginRight: 12,
    style: {fontFamily: FONT, fontSize: "21px", color: "#000", background: "#fff", overflow: "visible"},
    x: {domain: [-4, 34]},
    y: {domain: [0, yMax]},
    marks: [
      Plot.gridY(yTicks.filter(d => d > 0 && d < yMax), {stroke: "#d2d2d2", strokeOpacity: 1, strokeWidth: 1.6}),
      Plot.dot(fromCols(coolCols).concat(toPts(coolPts)), {x: "x", y: "y", symbol: "diamond2", r: 3.6, fill: GRAY}),
      Plot.dot(fromCols(heatCols), {x: "x", y: "y", r: 2.8, fill: "#000"}),
      Plot.dot(toPts(heatPts), {x: "x", y: "y", r: 2.4, fill: "#000"}),
      Plot.frame({stroke: "#000", strokeWidth: 2}),
      Plot.axisX({ticks: xTicks, tickSize: 9, tickPadding: 4, label: null, tickFormat: d => String(d), strokeWidth: 2}),
      Plot.axisY({ticks: yTicks, tickSize: 9, tickPadding: 5, label: null, tickFormat: fmt, strokeWidth: 2}),
      Plot.text([tag], {frameAnchor: "bottom-right", textAnchor: "end", lineAnchor: "bottom", dx: -21, dy: tagDy, fontWeight: "bold", fontSize: 20})
    ]
  });
  const svg = d3.select(p);
  const g = svg.append("g").attr("font-family", FONT).attr("font-size", 21).attr("fill", "#000").attr("text-anchor", "start");
  g.append("circle").attr("cx", leg[0]).attr("cy", leg[2]).attr("r", 3.8).attr("fill", "#000");
  g.append("text").attr("x", leg[0] + 14).attr("y", leg[2]).attr("dy", "0.32em").attr("text-anchor", "start").text(legendLabels[0]);
  const cx = leg[1], cy = leg[2];
  g.append("path").attr("d", `M${cx},${cy-4.5}L${cx+4.5},${cy}L${cx},${cy+4.5}L${cx-4.5},${cy}Z`).attr("fill", GRAY);
  g.append("text").attr("x", cx + 15).attr("y", cy).attr("dy", "0.32em").attr("text-anchor", "start").text(legendLabels[1]);
  const xt = g.append("text").attr("x", 461).attr("y", xlabY).attr("text-anchor", "middle");
  xt.append("tspan").attr("font-style", "italic").text("t");
  xt.append("tspan").attr("font-size", 14).attr("dy", 4).text("o");
  xt.append("tspan").attr("dy", -4).text(" / \u00B0C");
  const yt = g.append("text").attr("transform", `translate(31,${ylabY}) rotate(-90)`).attr("text-anchor", "middle");
  yt.append("tspan").attr("font-style", "italic").text("Q");
  yt.append("tspan").text(" / kWh");
  return p;
}

const wrap = document.getElementById("wrap");
wrap.append(panel({heatCols: heatRH_cols.concat(heatRH_fill), heatPts: heatRH_pts, coolCols: [], coolPts: coolRH, yMax: 7, yTicks: yTicksRH,
  height: 385, mt: 21, mb: 63, ml: 92, tag: panelTags[0], tagDy: -13, leg: [268, 468, 44], ylabY: 172, xlabY: 374}));
wrap.append(panel({heatCols: heatPH_cols, heatPts: heatPH_pts, coolCols: coolPH_cols, coolPts: coolPH_pts, yMax: 2.5, yTicks: yTicksPH,
  height: 384, mt: 25, mb: 57, ml: 93, tag: panelTags[1], tagDy: -15, leg: [240, 452, 55], ylabY: 175, xlabY: 377}));
</script>
</body></html>
